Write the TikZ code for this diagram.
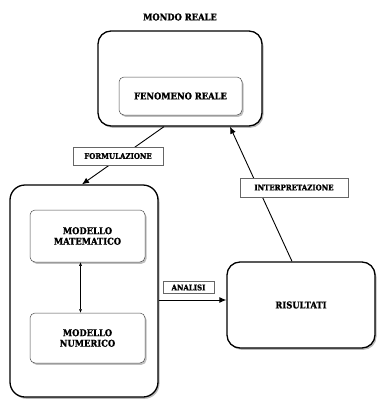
\documentclass[tikz,border=0pt]{standalone}
\usepackage{fontspec}
\usepackage{tikz}
\usetikzlibrary{arrows.meta,shadows}
\newfontfamily\boxfont{DejaVu Serif Condensed Bold}[FakeBold=1.4]

\begin{document}
\begin{tikzpicture}[x=1pt,y=-1pt]
\tikzstyle{every node}+=[font=\boxfont\fontsize{9.3}{10.5}\selectfont, align=center]
\tikzstyle{bigbox}=[draw=black, line width=1.3pt, rounded corners=13pt, fill=white,
  drop shadow={shadow xshift=1.5pt, shadow yshift=-1.8pt, fill=black!55}]
\tikzstyle{smallbox}=[draw=black!70, line width=0.5pt, rounded corners=5pt, fill=white,
  drop shadow={shadow xshift=1.5pt, shadow yshift=-1.8pt, fill=black!50}]
\tikzstyle{tag}=[draw=black!60, line width=0.4pt, fill=white, inner sep=0pt,
  font=\boxfont\fontsize{7.8}{8.5}\selectfont]
\tikzstyle{link}=[line width=0.9pt, -{Latex[length=7pt,width=6pt]}]
\useasboundingbox (0,0) rectangle (381,400);
% boxes
\node (titolo) at (180,17) {MONDO REALE};
\node [bigbox, minimum width=164pt, minimum height=95pt] (mondo) at (180,78.5) {};
\node [smallbox, minimum width=123pt, minimum height=38pt] (fenomeno) at (180.5,96) {FENOMENO REALE};
\node [bigbox, minimum width=148pt, minimum height=212pt, rounded corners=15pt] (modelli) at (84,291) {};
\node [smallbox, minimum width=115pt, minimum height=52pt] (matematico) at (87.5,236) {MODELLO\\MATEMATICO};
\node [smallbox, minimum width=115pt, minimum height=50pt] (numerico) at (87.5,338) {MODELLO\\NUMERICO};
\node [bigbox, minimum width=148pt, minimum height=86pt] (risultati) at (301,305) {RISULTATI};
% connectors
\draw [link] ([xshift=-16pt]mondo.south) -- ([xshift=-2pt]modelli.north);
\draw [link] ([xshift=-9pt]risultati.north) -- ([xshift=50pt]mondo.south);
\draw [link] (modelli.east |- risultati.west) ++(0,-5) -- ([yshift=5pt]risultati.west);
\draw [line width=0.4pt, {Latex[length=3.5pt,width=3pt]}-{Latex[length=3.5pt,width=3pt]}] ([xshift=-7pt]matematico.south) -- ([xshift=-7pt]numerico.north);
% labels
\node [tag, minimum width=90pt, minimum height=18pt] (formulazione) at (118,156) {FORMULAZIONE};
\node [tag, minimum width=51pt, minimum height=12pt] (analisi) at (188.5,287.5) {ANALISI};
\node [tag, minimum width=108pt, minimum height=19pt] (interpretazione) at (294,187.5) {INTERPRETAZIONE};
\end{tikzpicture}
\end{document}
